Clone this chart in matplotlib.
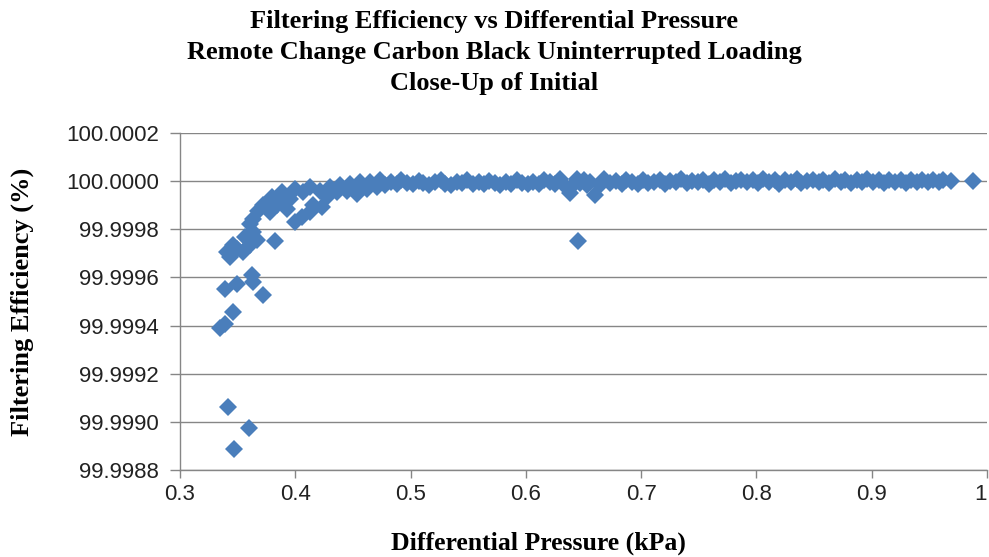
import matplotlib
matplotlib.use('Agg')
import matplotlib.pyplot as plt

# ------------------------------------------------------------------ #
#  Data                                  #
# ------------------------------------------------------------------ #

# initial loading: scattered low-efficiency points and the rising knee
early_kpa = [
    0.3419, 0.3601, 0.3471, 0.3347, 0.3390, 0.3457, 0.3390, 0.3492, 0.3622, 0.3636,
    0.3722, 0.3434, 0.3492, 0.3549, 0.3607, 0.3462, 0.3665, 0.3405, 0.3564, 0.3636,
    0.3824, 0.3636, 0.3679, 0.3607, 0.3722, 0.3795, 0.3839, 0.3781, 0.3896, 0.3882,
    0.3997, 0.4055, 0.4127, 0.4229, 0.4156, 0.3997, 0.4069, 0.4127, 0.4214, 0.4301,
    0.4388, 0.4474, 0.4561, 0.4648, 0.4735, 0.4272, 0.4359, 0.4446, 0.4533, 0.4619,
    0.4706, 0.3954, 0.3925,
]
early_eff = [
    99.999062, 99.998975, 99.998888, 99.999388, 99.999408, 99.999456, 99.999554, 99.999574, 99.999609, 99.999581,
    99.999526, 99.999685, 99.999720, 99.999705, 99.999733, 99.999733, 99.999754, 99.999705, 99.999768, 99.999788,
    99.999750, 99.999844, 99.999878, 99.999823, 99.999899, 99.999934, 99.999899, 99.999871, 99.999913, 99.999954,
    99.999830, 99.999851, 99.999871, 99.999892, 99.999899, 99.999968, 99.999954, 99.999975, 99.999961, 99.999975,
    99.999982, 99.999989, 99.999996, 99.999996, 100.000003, 99.999934, 99.999954, 99.999961, 99.999948, 99.999968,
    99.999975, 99.999927, 99.999885,
]

# plateau near 100 %
plateau_kpa = [
    0.478, 0.483, 0.488, 0.492, 0.497, 0.502, 0.507, 0.511, 0.516, 0.521,
    0.526, 0.530, 0.535, 0.540, 0.545, 0.549, 0.554, 0.559, 0.564, 0.568,
    0.573, 0.578, 0.583, 0.587, 0.592, 0.597, 0.602, 0.606, 0.611, 0.616,
    0.621, 0.625, 0.630, 0.634, 0.638, 0.641, 0.644, 0.647, 0.650, 0.653,
    0.656, 0.660, 0.664, 0.668, 0.673, 0.678, 0.683, 0.687, 0.692, 0.697,
    0.702, 0.706, 0.711, 0.716, 0.721, 0.725, 0.730, 0.735, 0.740, 0.744,
    0.749, 0.754, 0.759, 0.763, 0.768, 0.773, 0.778, 0.782, 0.787, 0.792,
    0.797, 0.801, 0.806, 0.811, 0.816, 0.820, 0.825, 0.830, 0.835, 0.839,
    0.844, 0.849, 0.854, 0.858, 0.863, 0.868, 0.873, 0.877, 0.882, 0.887,
    0.892, 0.896, 0.901, 0.906, 0.911, 0.915, 0.920, 0.925, 0.930, 0.934,
    0.939, 0.944, 0.949, 0.953, 0.958, 0.962, 0.969, 0.9875, 0.645,
]
plateau_eff = [
    99.999985, 99.999995, 99.999990, 100.000003, 99.999992, 99.999988, 100.000000, 99.999992, 99.999983, 99.999995,
    100.000003, 99.999990, 99.999985, 99.999998, 99.999992, 100.000005, 99.999988, 99.999995, 99.999990, 100.000000,
    99.999992, 99.999985, 99.999998, 99.999990, 100.000003, 99.999992, 99.999988, 99.999998, 99.999990, 100.000005,
    99.999995, 99.999988, 100.000008, 99.999980, 99.999950, 99.999985, 100.000010, 99.999992, 100.000005, 99.999983,
    99.999995, 99.999942, 99.999985, 100.000008, 99.999992, 100.000000, 99.999990, 100.000005, 99.999995, 99.999988,
    100.000003, 99.999992, 99.999998, 100.000005, 99.999990, 100.000000, 99.999995, 100.000008, 99.999992, 100.000000,
    99.999995, 100.000005, 99.999990, 100.000003, 99.999998, 100.000008, 99.999992, 100.000000, 100.000005, 99.999995,
    100.000003, 99.999992, 100.000008, 99.999998, 100.000003, 99.999990, 100.000005, 99.999998, 100.000008, 99.999992,
    100.000000, 100.000005, 99.999995, 100.000003, 99.999992, 100.000008, 99.999998, 100.000003, 99.999992, 100.000005,
    99.999998, 100.000008, 99.999995, 100.000003, 99.999992, 100.000005, 99.999998, 100.000003, 99.999992, 100.000005,
    99.999998, 100.000003, 99.999995, 100.000005, 99.999998, 100.000003, 100.000000, 100.000000, 99.999750,
]

x_ticks = [0.3, 0.4, 0.5, 0.6, 0.7, 0.8, 0.9, 1.0]
x_tick_labels = ['0.3', '0.4', '0.5', '0.6', '0.7', '0.8', '0.9', '1']
y_ticks = [99.9988, 99.9990, 99.9992, 99.9994, 99.9996, 99.9998, 100.0000, 100.0002]
y_tick_labels = ['99.9988', '99.9990', '99.9992', '99.9994',
                 '99.9996', '99.9998', '100.0000', '100.0002']

title = ('Filtering Efficiency vs Differential Pressure\n'
         'Remote Change Carbon Black Uninterrupted Loading\n'
         'Close-Up of Initial')

# ------------------------------------------------------------------ #
#  Plot                                                               #
# ------------------------------------------------------------------ #

MARKER = '#4a7ebb'
AXIS = '#868686'
SERIF = 'Liberation Serif'
SANS = 'Liberation Sans'

fig = plt.figure(figsize=(9.89, 5.57), dpi=100)
ax = fig.add_axes([180 / 989, 1 - 470 / 557, 807 / 989, 337 / 557])

ax.plot(early_kpa + plateau_kpa, early_eff + plateau_eff, linestyle='none',
        marker='D', markersize=9.4, color=MARKER, markeredgewidth=0)

ax.set_xlim(0.3, 1.0)
ax.set_ylim(99.9988, 100.0002)
ax.set_xticks(x_ticks)
ax.set_xticklabels(x_tick_labels, fontsize=16, family=SANS, color='#222222')
ax.get_xticklabels()[-1].set_horizontalalignment('right')
ax.set_yticks(y_ticks)
ax.set_yticklabels(y_tick_labels, fontsize=16, family=SANS, color='#222222')

ax.grid(axis='y', color=AXIS, linewidth=1.0)
ax.set_axisbelow(True)
for side in ('top', 'right'):
    ax.spines[side].set_visible(False)
for side in ('left', 'bottom'):
    ax.spines[side].set_color(AXIS)
    ax.spines[side].set_linewidth(1.0)
ax.tick_params(axis='x', length=6, width=1, color=AXIS, pad=4)
ax.tick_params(axis='y', length=7, width=1, color=AXIS, pad=8)

fig.text(0.5, 1 - 10 / 557, title, ha='center', va='top',
         fontsize=19, fontweight='bold', family=SERIF, linespacing=1.44)
fig.text(538 / 989, 1 - 543 / 557, 'Differential Pressure (kPa)', ha='center',
         va='center', fontsize=18.5, fontweight='bold', family=SERIF)
fig.text(22 / 989, 1 - 302 / 557, 'Filtering Efficiency (%)', ha='center',
         va='center', rotation=90, fontsize=19, fontweight='bold', family=SERIF)

fig.savefig('out.png', dpi=100)
